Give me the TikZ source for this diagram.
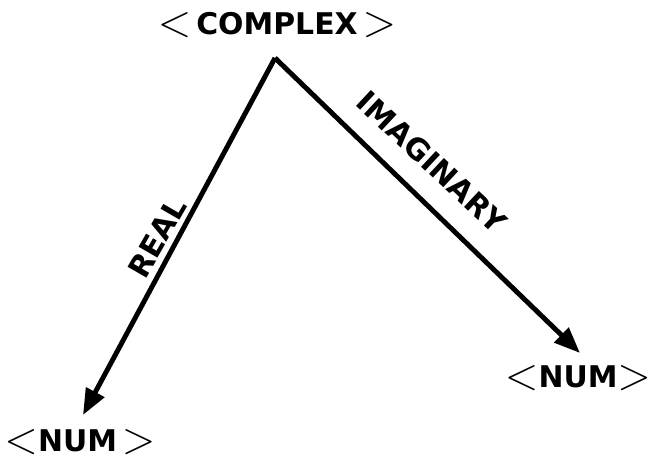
\documentclass[tikz,border=0pt]{standalone}
\usepackage{fontspec}
\setmainfont{DejaVu Sans}
\usetikzlibrary{arrows.meta}

\newcommand{\ltbr}{\raisebox{-0.1ex}{\scalebox{1.45}[1.5]{$<$}}}
\newcommand{\gtbr}{\raisebox{-0.1ex}{\scalebox{1.45}[1.5]{$>$}}}

\tikzset{
    lbl/.style={font=\bfseries\fontsize{17}{17}\selectfont, inner sep=0pt},
    branch/.style={line width=2.8pt, -{Triangle[length=0.52cm,width=0.4cm]}},
}

\begin{document}
\begin{tikzpicture}[x=0.02cm,y=0.02cm]
    \useasboundingbox (0,0) rectangle (652,463);

    % top node and apex of the branches
        \node[lbl] (cx) at (277,438) {\ltbr\,COMPLEX\,\gtbr};
        \coordinate (apex) at (275,405);

    % end nodes
        \node[lbl] (numL) at (80,21) {\ltbr NUM\,\gtbr};
        \node[lbl] (numR) at (578,85) {\ltbr NUM\gtbr};
        \coordinate (tipL) at (83,48);
        \coordinate (tipR) at (580,110);

    % branches
        \draw[branch] (apex) -- (tipL);
        \draw[branch] (apex) -- (tipR);

    % branch labels
    \node[lbl, rotate=60] (re) at (157,225) {REAL};
    \node[lbl, rotate=-43] (im) at (432,301) {IMAGINARY};
\end{tikzpicture}
\end{document}
